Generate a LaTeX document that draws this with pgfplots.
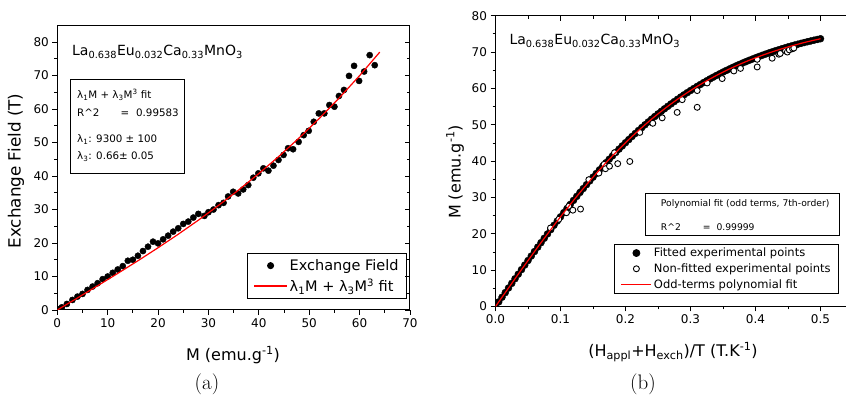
\documentclass[border=0pt]{standalone}
\usepackage{pgfplots}
\pgfplotsset{compat=1.18}
\usepackage{fontspec}
\newfontfamily\vf{DejaVu Sans}
\newcommand\tickf{\vf\fontsize{12bp}{14bp}\selectfont}
\newcommand\labf{\vf\fontsize{16bp}{19bp}\selectfont}
\newcommand\labfy{\vf\fontsize{16.8bp}{19bp}\selectfont}
\newcommand\legf{\vf\fontsize{14.5bp}{17bp}\selectfont}
\newcommand\legfb{\vf\fontsize{11.5bp}{14bp}\selectfont}
\newcommand\boxf{\vf\fontsize{10.3bp}{12bp}\selectfont}
\newcommand\boxfb{\vf\fontsize{9.2bp}{11bp}\selectfont}
\newcommand\formf{\vf\fontsize{14bp}{17bp}\selectfont}
\newcommand\sub[1]{\textsubscript{#1}}
\newcommand\sups[1]{\textsuperscript{#1}}
\pgfplotsset{
  myax/.style={scale only axis, anchor=south west, tick align=outside,
    xtick pos=left, ytick pos=left, major tick length=5bp, minor tick length=3bp,
    tick style={black, line width=0.8bp}, axis line style={line width=1bp},
    ticklabel style={font=\tickf}, /pgf/number format/assume math mode=true,
    minor x tick num=1, minor y tick num=1, clip marker paths=true},
  overax/.style={scale only axis, anchor=south west, tick align=inside,
    major tick length=5bp, minor tick length=3bp,
    tick style={black, line width=0.8bp}, axis line style={draw=none},
    xticklabels={}, yticklabels={}, minor x tick num=1, minor y tick num=1},
  legmarkA/.style={legend image code/.code={\draw[mark repeat=2,mark phase=2,##1] plot coordinates {(0bp,0bp) (16.5bp,0bp) (33bp,0bp)};}},
  leglineA/.style={legend image code/.code={\draw[##1, draw=red, line width=1.2bp] (0bp,0bp) -- (33bp,0bp);}},
  legmarkB/.style={legend image code/.code={\draw[mark repeat=2,mark phase=2,##1] plot coordinates {(0bp,0bp) (15bp,0bp) (30bp,0bp)};}},
  leglineB/.style={legend image code/.code={\draw[##1, draw=red, line width=1.2bp] (0bp,0bp) -- (30bp,0bp);}}
}
\begin{document}
\begin{tikzpicture}
\useasboundingbox (0,0) rectangle (846bp,401bp);
% ---------- (a) ----------
\begin{axis}[myax, at={(57.3bp,91bp)}, width=352.7bp, height=284bp,
  xmin=0, xmax=70, ymin=0, ymax=84.8,
  xtick={0,10,...,70}, ytick={0,10,...,80},
  legend style={at={(0.9915,0.0387)}, anchor=south east, font=\legf,
    line width=0.8bp, inner xsep=6bp, inner ysep=3.5bp, row sep=3bp,
    cells={anchor=west}}]
\addplot[only marks, mark=*, mark size=3.1bp, black, legmarkA]
coordinates {
(0.4,0.3) (0.9,0.8) (1.9,1.8) (3,3.0) (4,4.0) (5,4.8) (6,6.0) (7,7.0) (8,8.0)
(9,9.2) (10,10.0) (11,11.1) (12,12.1) (13,13.1) (14,14.7) (15,15.0) (16,16.2)
(17,17.6) (18,18.9) (19,20.4) (20,19.9) (21,21.1) (22,22.2) (23,23.4) (24,24.4)
(25,25.7) (26,26.4) (27,27.6) (28,28.7) (29.2,28.1) (30,29.2) (31,30.0) (32,31.3)
(33,32.0) (33.9,33.9) (34.9,35.3) (35.9,34.8) (36.9,36.0) (37.9,37.3) (38.9,39.5)
(39.9,40.8) (40.9,42.3) (41.9,41.6) (42.9,43.1) (43.9,44.8) (44.9,46.3) (45.8,48.3)
(46.8,48.0) (47.9,50.2) (48.9,52.2) (49.9,53.5) (50.9,56.2) (51.9,58.7) (53.0,58.7)
(54.0,61.2) (55.0,60.7) (55.9,63.9) (56.9,65.7) (57.9,69.9) (58.9,72.9) (59.9,68.4)
(60.9,71.2) (62.0,76.1) (63.0,73.1)
};
\addlegendentry{Exchange Field\hspace{7bp}}
\addplot[draw=red, color=red, line width=1.2bp, no marks, leglineA]
coordinates {
(0,0) (4,3.60) (8,7.24) (12,10.93) (16,14.70) (20,18.59) (24,22.62) (28,26.82)
(32,31.23) (36,35.85) (40,40.74) (44,45.90) (48,51.38) (52,57.21) (56,63.40)
(60,69.98) (64,77.0)
};
\addlegendentry{λ\sub{1}M + λ\sub{3}M\sups{3} fit}
\end{axis}
\begin{axis}[overax, at={(57.3bp,91bp)}, width=352.7bp, height=284bp,
  xmin=0, xmax=70, ymin=0, ymax=84.8, ytick={0,10,...,80},
  xtick=\empty, ytick pos=right]
\end{axis}
\draw[line width=0.8bp] (70bp,228bp) rectangle (184bp,322bp);
\node[anchor=west, inner sep=0pt, font=\boxf] at (77bp,306bp) {λ\sub{1}M + λ\sub{3}M\sups{3} fit};
\node[anchor=west, inner sep=0pt, font=\boxf] at (77bp,288.3bp) {R\textasciicircum 2\hspace{21bp}=\hspace{7bp}0.99583};
\node[anchor=west, inner sep=0pt, font=\boxf] at (77bp,261bp) {λ\sub{1}: 9300 ± 100};
\node[anchor=west, inner sep=0pt, font=\boxf] at (77bp,244.3bp) {λ\sub{3}: 0.66± 0.05};
\node[anchor=base west, inner sep=0pt, font=\formf] at (72bp,345bp) {La\sub{0.638}Eu\sub{0.032}Ca\sub{0.33}MnO\sub{3}};
\node[font=\labf] at (233bp,46bp) {M (emu.g\sups{-1})};
\node[font=\labfy, rotate=90] at (16bp,230bp) {Exchange Field (T)};
\node[font=\fontsize{21bp}{24bp}\selectfont] at (207bp,17bp) {(a)};
% ---------- (b) ----------
\begin{axis}[myax, at={(495.5bp,94.5bp)}, width=354.25bp, height=290.8bp,
  xmin=0, xmax=0.545, ymin=0, ymax=80,
  xtick={0,0.1,...,0.5}, ytick={0,10,...,80},
  xticklabel style={/pgf/number format/.cd, fixed, fixed zerofill, precision=1},
  legend style={at={(0.9697,0.043)}, anchor=south east, font=\legfb,
    line width=0.8bp, inner xsep=6bp, inner ysep=2bp, row sep=1.5bp,
    cells={anchor=west}}]
\addplot[only marks, mark=*, mark size=3.5bp, black, legmarkB]
coordinates {
(0,0) (0.005,1.27) (0.01,2.55) (0.015,3.82) (0.02,5.09) (0.025,6.36) (0.03,7.63)
(0.035,8.89) (0.04,10.15) (0.045,11.40) (0.05,12.64) (0.055,13.88) (0.06,15.12)
(0.065,16.34) (0.07,17.56) (0.075,18.77) (0.08,19.97) (0.085,21.16) (0.09,22.34)
(0.095,23.51) (0.10,24.67) (0.105,25.82) (0.11,26.96) (0.115,28.08) (0.12,29.19)
(0.125,30.29) (0.13,31.38) (0.135,32.45) (0.14,33.51) (0.145,34.55) (0.15,35.58)
(0.155,36.59) (0.16,37.60) (0.165,38.58) (0.17,39.56) (0.175,40.51) (0.18,41.45)
(0.185,42.37) (0.19,43.29) (0.195,44.18) (0.20,45.06) (0.205,45.92) (0.21,46.77)
(0.215,47.60) (0.22,48.42) (0.225,49.21) (0.23,50.00) (0.235,50.77) (0.24,51.53)
(0.245,52.26) (0.25,52.99) (0.255,53.69) (0.26,54.39) (0.265,55.06) (0.27,55.73)
(0.275,56.37) (0.28,57.01) (0.285,57.63) (0.29,58.24) (0.295,58.83) (0.30,59.41)
(0.305,59.97) (0.31,60.53) (0.315,61.06) (0.32,61.59) (0.325,62.10) (0.33,62.61)
(0.335,63.09) (0.34,63.57) (0.345,64.03) (0.35,64.49) (0.355,64.93) (0.36,65.36)
(0.365,65.77) (0.37,66.18) (0.375,66.58) (0.38,66.97) (0.385,67.34) (0.39,67.71)
(0.395,68.06) (0.40,68.41) (0.405,68.75) (0.41,69.08) (0.415,69.40) (0.42,69.71)
(0.425,70.01) (0.43,70.31) (0.435,70.59) (0.44,70.87) (0.445,71.14) (0.45,71.41)
(0.455,71.66) (0.46,71.91) (0.465,72.15) (0.47,72.39) (0.475,72.62) (0.48,72.84)
(0.485,73.05) (0.49,73.26) (0.495,73.46) (0.50,73.66)
};
\addlegendentry{Fitted experimental points}
\addplot[only marks, mark=*, mark size=3bp, black, mark options={fill=white, line width=0.9bp}, legmarkB]
coordinates {
(0.0846,21.6) (0.0974,24.0) (0.1092,25.8) (0.1128,27.6) (0.119,26.5) (0.1308,26.8)
(0.1436,34.9) (0.159,36.7) (0.167,39.1) (0.1692,37.9) (0.1754,38.6) (0.183,42.3)
(0.188,39.3) (0.2066,39.9) (0.222,47.9) (0.242,50.4) (0.2564,51.9) (0.2795,53.4)
(0.2872,56.9) (0.3103,54.8) (0.3103,59.4) (0.3256,61.5) (0.3487,62.7) (0.3667,64.8)
(0.3769,65.5) (0.4026,65.9) (0.4026,68.0) (0.4256,68.3) (0.4359,69.4) (0.438,69.6)
(0.4462,70.3) (0.449,70.0) (0.452,70.6) (0.457,70.9) (0.459,71.1)
};
\addlegendentry{Non-fitted experimental points}
\addplot[draw=red, color=red, line width=1.2bp, no marks, leglineB]
coordinates {
(0,0) (0.01,2.55) (0.02,5.09) (0.03,7.63) (0.04,10.15) (0.05,12.64) (0.06,15.12)
(0.07,17.56) (0.08,19.97) (0.09,22.34) (0.10,24.67) (0.11,26.96) (0.12,29.19)
(0.13,31.38) (0.14,33.51) (0.15,35.58) (0.16,37.60) (0.17,39.56) (0.18,41.45)
(0.19,43.29) (0.20,45.06) (0.21,46.77) (0.22,48.42) (0.23,50.00) (0.24,51.53)
(0.25,52.99) (0.26,54.39) (0.27,55.73) (0.28,57.01) (0.29,58.24) (0.30,59.41)
(0.31,60.53) (0.32,61.59) (0.33,62.61) (0.34,63.57) (0.35,64.49) (0.36,65.36)
(0.37,66.18) (0.38,66.97) (0.39,67.71) (0.40,68.41) (0.41,69.08) (0.42,69.71)
(0.43,70.31) (0.44,70.87) (0.45,71.41) (0.46,71.91) (0.47,72.39) (0.48,72.84)
(0.49,73.26) (0.50,73.66)
};
\addlegendentry{Odd-terms polynomial fit}
\end{axis}
\begin{axis}[overax, at={(495.5bp,94.5bp)}, width=354.25bp, height=290.8bp,
  xmin=0, xmax=0.545, ymin=0, ymax=80, xtick={0,0.1,...,0.5},
  ytick=\empty, xtick pos=right]
\end{axis}
\draw[line width=0.8bp] (645.7bp,166bp) rectangle (839bp,208bp);
\node[anchor=west, inner sep=0pt, font=\boxfb] at (660.7bp,197bp) {Polynomial fit (odd terms, 7th-order)};
\node[anchor=west, inner sep=0pt, font=\boxfb] at (660.7bp,174.3bp) {R\textasciicircum 2\hspace{22bp}=\hspace{6bp}0.99999};
\node[anchor=base west, inner sep=0pt, font=\formf] at (509.3bp,356bp) {La\sub{0.638}Eu\sub{0.032}Ca\sub{0.33}MnO\sub{3}};
\node[font=\labf] at (673bp,49bp) {(H\sub{appl}+H\sub{exch})/T (T.K\sups{-1})};
\node[font=\labf, rotate=90] at (455bp,229bp) {M (emu.g\sups{-1})};
\node[font=\fontsize{21bp}{24bp}\selectfont] at (643bp,17bp) {(b)};
\end{tikzpicture}
\end{document}
